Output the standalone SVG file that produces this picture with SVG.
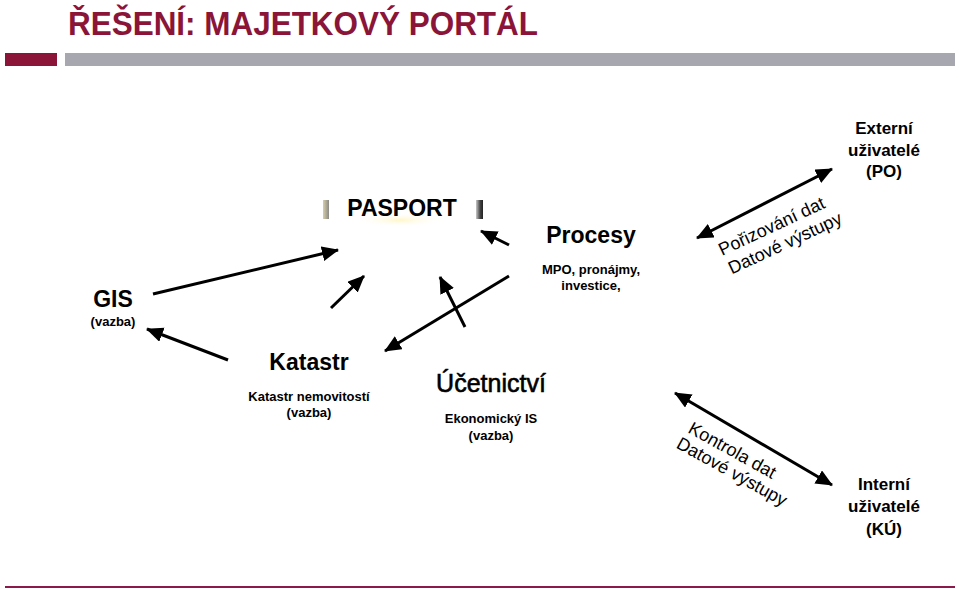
<svg xmlns="http://www.w3.org/2000/svg" width="959" height="589" viewBox="0 0 959 589">
<style>
text{font-family:"Liberation Sans",Arial,sans-serif;fill:#000}
.b{font-weight:bold}
.big{font-size:23px;font-weight:bold}
.sm{font-size:13px;font-weight:bold}
.usr{font-size:17px;font-weight:bold}
.rot{font-size:18px}
.c{text-anchor:middle}
.ln{stroke:#000;stroke-width:3;fill:none}
</style>
<defs>
<marker id="ah" markerUnits="userSpaceOnUse" markerWidth="19" markerHeight="16" refX="16" refY="7.5" orient="auto-start-reverse">
<path d="M0,0 L17,7.5 L0,15 Z" fill="#000"/>
</marker>
<linearGradient id="gl" x1="0" x2="1" y1="0" y2="0">
<stop offset="0" stop-color="#d8cfa8"/><stop offset="1" stop-color="#8a8a86"/>
</linearGradient>
<linearGradient id="gr" x1="0" x2="1" y1="0" y2="0">
<stop offset="0" stop-color="#c8c8c8"/><stop offset="0.6" stop-color="#444"/><stop offset="1" stop-color="#222"/>
</linearGradient>
<radialGradient id="glow" cx="0.5" cy="0.5" r="0.5">
<stop offset="0" stop-color="#fff7c8"/><stop offset="1" stop-color="#ffffff" stop-opacity="0"/>
</radialGradient>
</defs>
<rect width="959" height="589" fill="#fff"/>

<g id="header">
<text x="68" y="35" class="b" font-size="34" style="fill:#8B1538" textLength="470" lengthAdjust="spacingAndGlyphs">ŘEŠENÍ: MAJETKOVÝ PORTÁL</text>
<rect x="5" y="53" width="52" height="13" fill="#8B1538"/>
<rect x="65" y="53" width="890" height="13" fill="#A7A8AF"/>
</g>

<g id="pasport">
<ellipse cx="400" cy="220" rx="45" ry="7" fill="url(#glow)"/>
<rect x="323" y="200" width="6" height="19" fill="url(#gl)"/>
<rect x="476" y="200" width="7" height="19" fill="url(#gr)"/>
<text x="402" y="216" class="big c">PASPORT</text>
</g>

<g id="procesy">
<text x="591" y="243" class="big c">Procesy</text>
<text x="591" y="274" class="sm c" font-size="12">MPO, pronájmy,</text>
<text x="591" y="290" class="sm c" font-size="12">investice,</text>
</g>

<g id="gis">
<text x="113" y="307" class="big c">GIS</text>
<text x="113" y="326" class="sm c">(vazba)</text>
</g>

<g id="katastr">
<text x="309" y="370" class="big c" font-size="24">Katastr</text>
<text x="309" y="401" class="sm c">Katastr nemovitostí</text>
<text x="309" y="417" class="sm c">(vazba)</text>
</g>

<g id="ucetnictvi">
<text x="491" y="392" class="c" font-size="25" stroke="#000" stroke-width="0.6">Účetnictví</text>
<text x="491" y="423" class="sm c">Ekonomický IS</text>
<text x="491" y="440" class="sm c">(vazba)</text>
</g>

<g id="externi">
<text x="884" y="134" class="usr c">Externí</text>
<text x="884" y="156" class="usr c">uživatelé</text>
<text x="884" y="177" class="usr c">(PO)</text>
</g>

<g id="interni">
<text x="884" y="490" class="usr c">Interní</text>
<text x="884" y="512" class="usr c">uživatelé</text>
<text x="884" y="535" class="usr c">(KÚ)</text>
</g>

<g id="connectors">
<line class="ln" x1="153" y1="294" x2="338" y2="250" marker-end="url(#ah)"/>
<line class="ln" x1="228" y1="360" x2="147" y2="329" marker-end="url(#ah)"/>
<line class="ln" x1="331" y1="308" x2="364" y2="276" marker-end="url(#ah)"/>
<line class="ln" x1="509" y1="245" x2="481" y2="231" marker-end="url(#ah)"/>
<line class="ln" x1="465" y1="327" x2="440" y2="277" marker-end="url(#ah)"/>
<line class="ln" x1="509" y1="276" x2="385" y2="351" marker-end="url(#ah)"/>
<line class="ln" x1="697" y1="238" x2="832" y2="169" marker-start="url(#ah)" marker-end="url(#ah)"/>
<line class="ln" x1="675" y1="393" x2="832" y2="485" marker-start="url(#ah)" marker-end="url(#ah)"/>
</g>

<g id="labels">
<g transform="translate(722,256) rotate(-25)">
<text class="rot" x="0" y="0">Pořizování dat</text>
<text class="rot" x="1" y="21">Datové výstupy</text>
</g>
<g transform="translate(687,432) rotate(29)">
<text class="rot" x="0" y="0">Kontrola dat</text>
<text class="rot" x="-3" y="19">Datové výstupy</text>
</g>
</g>

<line x1="5" y1="587" x2="955" y2="587" stroke="#8B1A4A" stroke-width="2"/>
</svg>
